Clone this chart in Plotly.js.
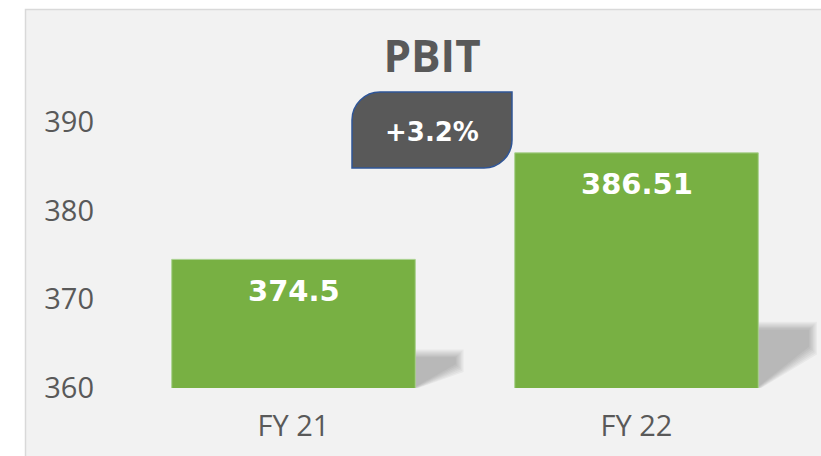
<!DOCTYPE html>
<html>
<head>
<meta charset="utf-8">
<script src="https://cdn.plot.ly/plotly-3.0.1.min.js"></script>
<style>html,body{margin:0;padding:0;background:#fff;}#chart{width:821px;height:456px;}</style>
</head>
<body>
<div id="chart"></div>
<script>
// ---- data ----
const categories = ["FY 21", "FY 22"];
const pbitValues = [374.5, 386.51];
const yTickValues = [360, 370, 380, 390];
const chartTitle = "PBIT";

// ---- layout geometry (pixels) ----
const W = 821, H = 456;
const M = {l: 122, r: 13, t: 78, b: 68};
const plotW = W - M.l - M.r, plotH = H - M.t - M.b;
const yMin = 360, yMax = 360 + plotH / 8.87;
const px = x => (x - M.l) / plotW;            // pixel x -> paper x
const py = y => (H - M.b - y) / plotH;         // pixel y -> paper y
const xPix = p => M.l + (p + 0.5) / categories.length * plotW; // category pos -> pixel x
const yPix = v => H - M.b - (v - yMin) / (yMax - yMin) * plotH; // value -> pixel y
const barWidth = 0.71;

const grey = "#595959";
const green = "#78b043";

// percentage change
const pct = (pbitValues[1] / pbitValues[0] - 1) * 100;
const pctText = (pct >= 0 ? "+" : "") + pct.toFixed(1) + "%";

const shapes = [];
// panel background with border
shapes.push({type: "rect", xref: "paper", yref: "paper", layer: "below",
  x0: px(25.5), x1: px(840), y0: py(480), y1: py(9.5),
  fillcolor: "#f2f2f2", line: {color: "#d9d9d9", width: 1.5}});

// soft perspective shadows behind each bar (derived from data, blurred by layering)
pbitValues.forEach((v, i) => {
  const h = v - yMin;
  const re = xPix(i + barWidth / 2);
  const dx = (0.09 + 0.0025 * h) * plotW / categories.length;
  const base = yPix(yMin);
  const top = yPix(yMin + 0.26 * h);
  const hs = base - top;
  const P = (x, y) => `${px(x)},${py(y)}`;
  for (let e = 5; e >= -3; e -= 1.3) {
    const path = `M ${P(re - 2, top - e)} L ${P(re + dx + e, top - e)} ` +
      `L ${P(re + dx + e, top + 0.37 * hs + e)} L ${P(re + e * 0.6, base)} L ${P(re - 2, base)} Z`;
    shapes.push({type: "path", xref: "paper", yref: "paper", layer: "below",
      path: path, fillcolor: "rgb(90,90,90)", opacity: 0.06, line: {width: 0}});
  }
});

// callout box with two rounded corners
(function () {
  const L = 352, R = 512, T = 92, B = 168, r = 28, k = 0.45;
  const P = (x, y) => `${px(x)},${py(y)}`;
  const path = `M ${P(L + r, T)} L ${P(R, T)} L ${P(R, B - r)} ` +
    `C ${P(R, B - r * k)} ${P(R - r * k, B)} ${P(R - r, B)} ` +
    `L ${P(L, B)} L ${P(L, T + r)} ` +
    `C ${P(L, T + r * k)} ${P(L + r * k, T)} ${P(L + r, T)} Z`;
  shapes.push({type: "path", xref: "paper", yref: "paper", layer: "above",
    path: path, fillcolor: grey, line: {color: "#2f5597", width: 1.5}});
})();

const annotations = pbitValues.map((v, i) => ({
  x: categories[i], y: v, xref: "x", yref: "y",
  text: String(v), showarrow: false, yanchor: "middle", yshift: -31.5,
  font: {family: "DejaVu Sans", size: 29, color: "#ffffff", weight: 700}
}));
annotations.push({
  xref: "paper", yref: "paper", x: px(432), y: py(131.5),
  xanchor: "center", yanchor: "middle", showarrow: false, text: pctText,
  font: {family: "DejaVu Sans", size: 26, color: "#ffffff", weight: 700}
});

const trace = {
  type: "bar", x: categories, y: pbitValues, width: barWidth,
  marker: {color: green, line: {color: "#a9d18e", width: 1}},
  hoverinfo: "x+y"
};

const layout = {
  width: W, height: H,
  margin: M,
  paper_bgcolor: "#ffffff",
  plot_bgcolor: "rgba(0,0,0,0)",
  showlegend: false,
  title: {text: chartTitle, xref: "container", yref: "container",
    x: 432 / W, xanchor: "center", y: 1 - 57 / H, yanchor: "middle",
    font: {family: "Open Sans", size: 44, color: grey, weight: 700}},
  xaxis: {type: "category", range: [-0.5, categories.length - 0.5],
    showgrid: false, zeroline: false, showline: false, ticks: "",
    ticklabelstandoff: 18,
    tickfont: {family: "Open Sans", size: 29, color: grey}},
  yaxis: {range: [yMin, yMax], tickvals: yTickValues,
    showgrid: false, zeroline: false, showline: false, ticks: "",
    ticklabelstandoff: 27,
    tickfont: {family: "Open Sans", size: 29, color: grey}},
  shapes: shapes,
  annotations: annotations
};

Plotly.newPlot("chart", [trace], layout, {displayModeBar: false, staticPlot: true});
</script>
</body>
</html>
